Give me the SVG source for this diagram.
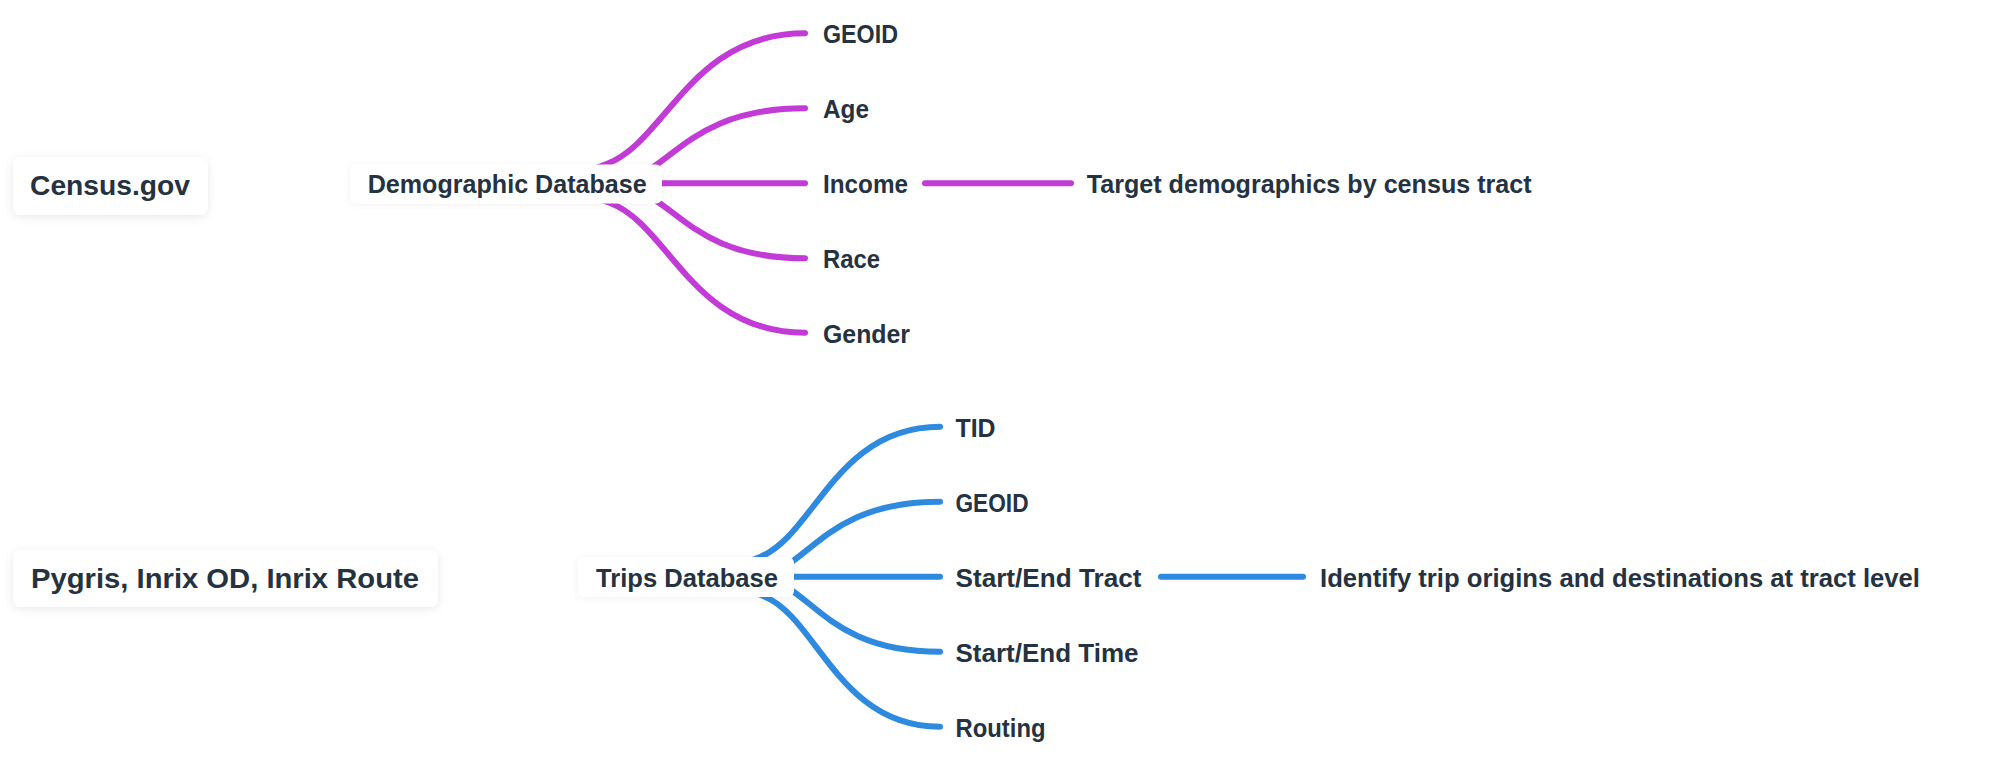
<svg xmlns="http://www.w3.org/2000/svg" width="2000" height="762" viewBox="0 0 2000 762">
  <defs>
    <filter id="shadowRoot" x="-20%" y="-50%" width="140%" height="200%">
      <feDropShadow dx="0" dy="2" stdDeviation="5" flood-color="#000" flood-opacity="0.09"/>
    </filter>
    <filter id="shadowMain" x="-20%" y="-50%" width="140%" height="200%">
      <feDropShadow dx="0" dy="1" stdDeviation="3" flood-color="#000" flood-opacity="0.06"/>
    </filter>
    <style>
      .txt { font-family: "Liberation Sans", Arial, sans-serif; font-weight: bold; fill: #25323f; }
      .root { font-size: 28.5px; }
      .main { font-size: 26px; }
      .leaf { font-size: 25px; }
      .box { fill: #ffffff; }
      .rootbox { filter: url(#shadowRoot); }
      .mainbox { filter: url(#shadowMain); }
      .c { fill: none; stroke-width: 6; stroke-linecap: round; stroke-linejoin: round; }
      .purple { stroke: #c23bd6; }
      .blue { stroke: #2e8ade; }
    </style>
  </defs>
  <rect width="2000" height="762" fill="#ffffff"/>

  <g id="connectors">
    <!-- Demographic Database branches -->
    <path class="c purple" d="M594.5,168.6 L606.7,164 C666.2,141.8 690,33.3 805,33.3"/>
    <path class="c purple" d="M648.4,170.2 L655,165.7 C685,145.6 715,108.3 805,108.3"/>
    <path class="c purple" d="M650,183.3 H805"/>
    <path class="c purple" d="M652.4,198.3 L659,202.7 C688.2,222.2 717.4,258.3 805,258.3"/>
    <path class="c purple" d="M598.5,198.7 L610.7,203.3 C669,225.3 692.3,332.7 805,332.7"/>
    <path class="c purple" d="M925,183.3 H1071"/>
    <!-- Trips Database branches -->
    <path class="c blue" d="M748.7,561.6 L760.7,556.7 C814.5,534.6 836,426.7 940,426.7"/>
    <path class="c blue" d="M786.8,565.3 L793.3,560.7 C822.6,540 852,501.7 940,501.7"/>
    <path class="c blue" d="M785,576.7 H940"/>
    <path class="c blue" d="M788.5,588.1 L795,592.7 C824,613.4 853,651.7 940,651.7"/>
    <path class="c blue" d="M753,591.6 L765,596.7 C817.5,618.8 838.5,726.7 940,726.7"/>
    <path class="c blue" d="M1161,576.7 H1303"/>
  </g>

  <g id="census">
    <rect class="box rootbox" x="13" y="157" width="195" height="58" rx="8"/>
    <text class="txt root" x="30" y="195" textLength="160" lengthAdjust="spacingAndGlyphs">Census.gov</text>
  </g>
  <g id="demographic-db">
    <rect class="box mainbox" x="350" y="164.5" width="312" height="39" rx="6"/>
    <text class="txt main" x="367.7" y="193.3" textLength="279" lengthAdjust="spacingAndGlyphs">Demographic Database</text>
  </g>
  <g id="d-geoid"><text class="txt leaf" x="823" y="43.3" textLength="75" lengthAdjust="spacingAndGlyphs">GEOID</text></g>
  <g id="d-age"><text class="txt leaf" x="823" y="118.3" textLength="46" lengthAdjust="spacingAndGlyphs">Age</text></g>
  <g id="d-income"><text class="txt leaf" x="823" y="193.3" textLength="85" lengthAdjust="spacingAndGlyphs">Income</text></g>
  <g id="d-race"><text class="txt leaf" x="823" y="268.3" textLength="57" lengthAdjust="spacingAndGlyphs">Race</text></g>
  <g id="d-gender"><text class="txt leaf" x="823" y="343.3" textLength="87" lengthAdjust="spacingAndGlyphs">Gender</text></g>
  <g id="d-target"><text class="txt leaf" x="1086.7" y="193.3" textLength="445" lengthAdjust="spacingAndGlyphs">Target demographics by census tract</text></g>

  <g id="pygris">
    <rect class="box rootbox" x="13" y="550" width="425" height="57" rx="8"/>
    <text class="txt root" x="31" y="588.3" textLength="388" lengthAdjust="spacingAndGlyphs">Pygris, Inrix OD, Inrix Route</text>
  </g>
  <g id="trips-db">
    <rect class="box mainbox" x="578" y="557" width="216" height="40" rx="6"/>
    <text class="txt main" x="596" y="587" textLength="182" lengthAdjust="spacingAndGlyphs">Trips Database</text>
  </g>
  <g id="t-tid"><text class="txt leaf" x="955.5" y="436.7" textLength="40" lengthAdjust="spacingAndGlyphs">TID</text></g>
  <g id="t-geoid"><text class="txt leaf" x="955.5" y="511.7" textLength="73" lengthAdjust="spacingAndGlyphs">GEOID</text></g>
  <g id="t-tract"><text class="txt leaf" x="955.5" y="586.7" textLength="186" lengthAdjust="spacingAndGlyphs">Start/End Tract</text></g>
  <g id="t-time"><text class="txt leaf" x="955.5" y="661.7" textLength="183" lengthAdjust="spacingAndGlyphs">Start/End Time</text></g>
  <g id="t-routing"><text class="txt leaf" x="955.5" y="736.7" textLength="90" lengthAdjust="spacingAndGlyphs">Routing</text></g>
  <g id="t-identify"><text class="txt leaf" x="1320" y="586.7" textLength="600" lengthAdjust="spacingAndGlyphs">Identify trip origins and destinations at tract level</text></g>
</svg>
